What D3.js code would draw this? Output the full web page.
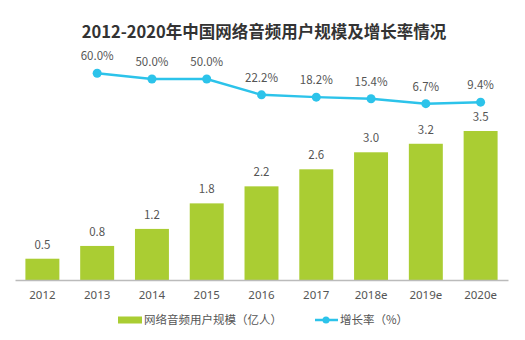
<!DOCTYPE html>
<html>
<head>
<meta charset="utf-8">
<script src="https://cdn.jsdelivr.net/npm/d3@7"></script>
<style>
  html, body { margin: 0; padding: 0; background: #fff; }
  svg { display: block; font-family: "Noto Sans CJK SC", "Noto Sans", sans-serif; }
</style>
</head>
<body>
<svg id="chart" width="525" height="340"></svg>
<script>
// Years on the category axis
const years = ["2012", "2013", "2014", "2015", "2016", "2017", "2018e", "2019e", "2020e"];
// Online audio users (hundred million people)
const users = [0.5, 0.8, 1.2, 1.8, 2.2, 2.6, 3.0, 3.2, 3.5];
// Year-on-year growth (%), starting from 2013
const growthYears = ["2013", "2014", "2015", "2016", "2017", "2018e", "2019e", "2020e"];
const growth = [60.0, 50.0, 50.0, 22.2, 18.2, 15.4, 6.7, 9.4];

const title = "2012-2020年中国网络音频用户规模及增长率情况";
const legendBar = "网络音频用户规模（亿人）";
const legendLine = "增长率（%）";

const barColor = "#aacd33";
const lineColor = "#2cc3ea";
const textColor = "#555";

const svg = d3.select("#chart");

// Category scale shared by bars and line
const x = d3.scaleBand().domain(years).range([15, 508]).paddingInner(0.38).paddingOuter(0.19);
// Bar value scale
const yBar = d3.scaleLinear().domain([0, 3.5]).range([280, 131]);
// Growth rate scale occupies the upper band
const yLine = d3.scaleLinear().domain([0, 60]).range([107.5, 73.3]);

// Title
svg.append("text")
  .attr("x", 264).attr("y", 38)
  .attr("text-anchor", "middle")
  .attr("font-size", 16.5).attr("font-weight", "bold")
  .attr("fill", "#333")
  .text(title);

// Bars
svg.append("g").selectAll("rect")
  .data(users)
  .join("rect")
  .attr("x", (d, i) => x(years[i]))
  .attr("y", d => yBar(d))
  .attr("width", x.bandwidth())
  .attr("height", d => yBar(0) - yBar(d))
  .attr("fill", barColor);

// Bar value labels
svg.append("g").selectAll("text")
  .data(users)
  .join("text")
  .attr("x", (d, i) => x(years[i]) + x.bandwidth() / 2)
  .attr("y", d => yBar(d) - 10)
  .attr("text-anchor", "middle")
  .attr("font-size", 11.5).attr("fill", textColor)
  .text(d => d.toFixed(1));

// X axis
const xAxis = d3.axisBottom(x).tickSize(0).tickPadding(11);
const gx = svg.append("g").attr("transform", `translate(0,${yBar(0)})`).call(xAxis);
gx.select(".domain").attr("stroke", "#bbb").attr("stroke-width", 1.5);
gx.selectAll(".tick text")
  .attr("font-size", 11.5).attr("fill", textColor)
  .attr("font-family", "'Noto Sans', sans-serif");

// Growth line
const cx = d => x(d) + x.bandwidth() / 2;
const line = d3.line().x((d, i) => cx(growthYears[i])).y(d => yLine(d));
svg.append("path")
  .datum(growth)
  .attr("d", line)
  .attr("fill", "none")
  .attr("stroke", lineColor)
  .attr("stroke-width", 2.5);

svg.append("g").selectAll("circle")
  .data(growth)
  .join("circle")
  .attr("cx", (d, i) => cx(growthYears[i]))
  .attr("cy", d => yLine(d))
  .attr("r", 4.5)
  .attr("fill", lineColor);

svg.append("g").selectAll("text")
  .data(growth)
  .join("text")
  .attr("x", (d, i) => cx(growthYears[i]))
  .attr("y", d => yLine(d) - 13)
  .attr("text-anchor", "middle")
  .attr("font-size", 11.5).attr("fill", textColor)
  .text(d => d.toFixed(1) + "%");

// Legend
const lg = svg.append("g").attr("transform", "translate(0,320)");
lg.append("rect")
  .attr("x", 118).attr("y", -3.5).attr("width", 24).attr("height", 7)
  .attr("fill", barColor);
lg.append("text")
  .attr("x", 144).attr("y", 4)
  .attr("font-size", 11.5).attr("fill", textColor)
  .text(legendBar);
lg.append("line")
  .attr("x1", 315).attr("x2", 338).attr("y1", 0).attr("y2", 0)
  .attr("stroke", lineColor).attr("stroke-width", 2.5);
lg.append("circle")
  .attr("cx", 326).attr("cy", 0).attr("r", 3.5).attr("fill", lineColor);
lg.append("text")
  .attr("x", 340).attr("y", 4)
  .attr("font-size", 11.5).attr("fill", textColor)
  .text(legendLine);
</script>
</body>
</html>
